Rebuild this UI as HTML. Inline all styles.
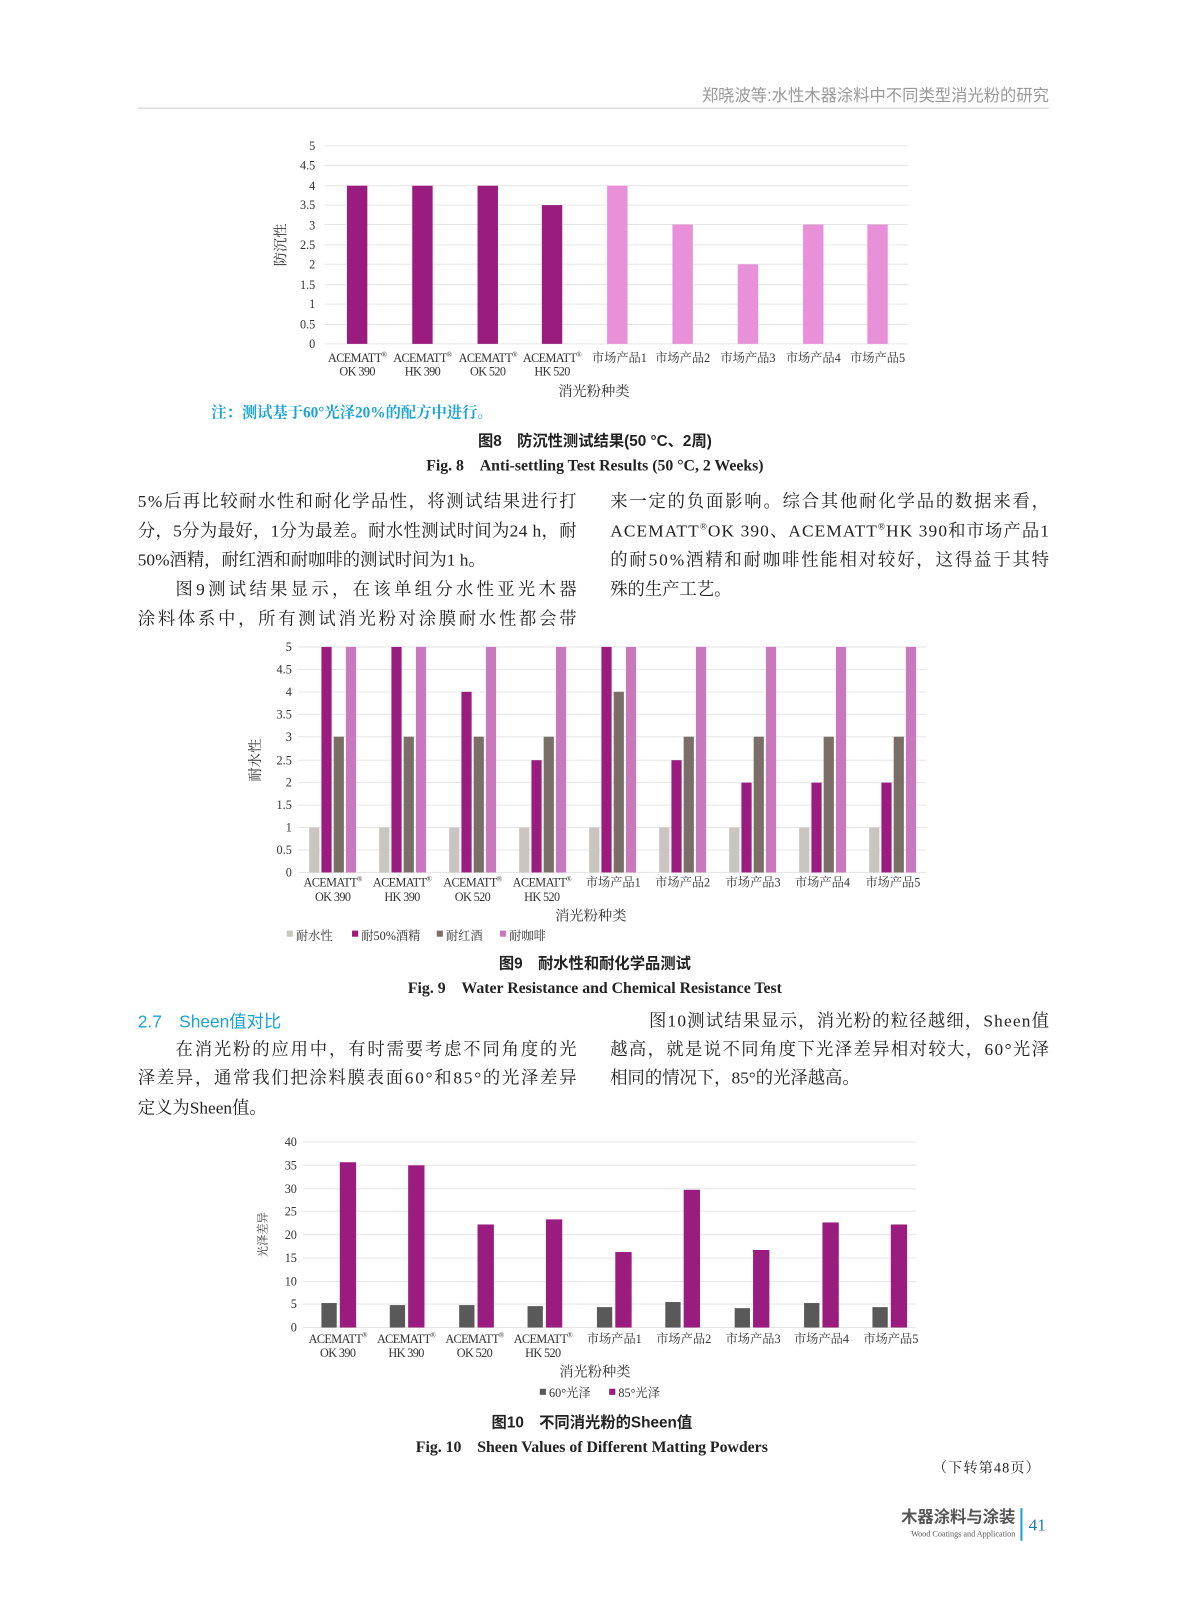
<!DOCTYPE html>
<html><head><meta charset="utf-8"><style>
html,body{margin:0;padding:0;background:#fff;}
svg{display:block;}
.s{font-family:"Liberation Serif","Noto Serif CJK SC",serif;}
.b{font-family:"Liberation Serif","Noto Serif CJK SC",serif;font-size:17px;fill:#222;}
.t{font-family:"Liberation Serif","Noto Serif CJK SC",serif;font-size:12px;fill:#333;}
.g{stroke:#e6e6e6;stroke-width:1;}
</style></head><body>
<svg width="1187" height="1600" viewBox="0 0 1187 1600" xmlns="http://www.w3.org/2000/svg">
<g transform="scale(1.0204)">
<!-- header -->
<text x="1028" y="99" text-anchor="end" font-family="Liberation Sans,Noto Sans CJK SC,sans-serif" font-size="16" fill="#999">郑晓波等:水性木器涂料中不同类型消光粉的研究</text>
<line x1="135" y1="106" x2="1028" y2="106" stroke="#ccc" stroke-width="1"/>

<!-- Chart 1 -->
<g class="t" text-anchor="end">
<text x="309" y="147">5</text><text x="309" y="166">4.5</text><text x="309" y="186">4</text><text x="309" y="205">3.5</text><text x="309" y="225">3</text><text x="309" y="244">2.5</text><text x="309" y="263">2</text><text x="309" y="283">1.5</text><text x="309" y="302">1</text><text x="309" y="322">0.5</text><text x="309" y="341">0</text>
</g>
<g class="g">
<line x1="318" x2="890" y1="143" y2="143"/><line x1="318" x2="890" y1="162" y2="162"/><line x1="318" x2="890" y1="182" y2="182"/><line x1="318" x2="890" y1="201" y2="201"/><line x1="318" x2="890" y1="220" y2="220"/><line x1="318" x2="890" y1="240" y2="240"/><line x1="318" x2="890" y1="259" y2="259"/><line x1="318" x2="890" y1="279" y2="279"/><line x1="318" x2="890" y1="298" y2="298"/><line x1="318" x2="890" y1="318" y2="318"/><line x1="318" x2="890" y1="337" y2="337"/>
</g>
<g>
<rect x="340" y="182" width="20" height="155" fill="#9b1c7f"/>
<rect x="404" y="182" width="20" height="155" fill="#9b1c7f"/>
<rect x="468" y="182" width="20" height="155" fill="#9b1c7f"/>
<rect x="531" y="201" width="20" height="136" fill="#9b1c7f"/>
<rect x="595" y="182" width="20" height="155" fill="#e891d8"/>
<rect x="659" y="220" width="20" height="117" fill="#e891d8"/>
<rect x="723" y="259" width="20" height="78" fill="#e891d8"/>
<rect x="787" y="220" width="20" height="117" fill="#e891d8"/>
<rect x="850" y="220" width="20" height="117" fill="#e891d8"/>
</g>
<g class="t" text-anchor="middle" letter-spacing="-0.6">
<text x="350" y="355">ACEMATT<tspan font-size="7" dy="-5">®</tspan></text><text x="350" y="368">OK 390</text>
<text x="414" y="355">ACEMATT<tspan font-size="7" dy="-5">®</tspan></text><text x="414" y="368">HK 390</text>
<text x="478" y="355">ACEMATT<tspan font-size="7" dy="-5">®</tspan></text><text x="478" y="368">OK 520</text>
<text x="541" y="355">ACEMATT<tspan font-size="7" dy="-5">®</tspan></text><text x="541" y="368">HK 520</text>
</g>
<g class="t" text-anchor="middle">
<text x="607" y="355">市场产品1</text><text x="669" y="355">市场产品2</text><text x="733" y="355">市场产品3</text><text x="797" y="355">市场产品4</text><text x="860" y="355">市场产品5</text>
<text x="582" y="388" font-size="14">消光粉种类</text>
<text x="0" y="0" font-size="14" transform="translate(280,240) rotate(-90)">防沉性</text>
</g>
<text x="207" y="409" font-family="Liberation Serif,Noto Serif CJK SC,serif" font-size="15" font-weight="bold" fill="#1aa3d9">注：测试基于60°光泽20%的配方中进行。</text>
<text x="583" y="437" text-anchor="middle" font-family="Liberation Sans,Noto Sans CJK SC,sans-serif" font-size="15" font-weight="bold" fill="#222">图8　防沉性测试结果(50 °C、2周)</text>
<text x="583" y="461" text-anchor="middle" class="s" font-size="15.5" font-weight="bold" fill="#222">Fig. 8　Anti-settling Test Results (50 °C, 2 Weeks)</text>

<!-- body text 1 -->
<g class="b">
<text x="135" y="497" textLength="430" lengthAdjust="spacing">5%后再比较耐水性和耐化学品性，将测试结果进行打</text>
<text x="135" y="526" textLength="430" lengthAdjust="spacing">分，5分为最好，1分为最差。耐水性测试时间为24 h，耐</text>
<text x="135" y="554">50%酒精，耐红酒和耐咖啡的测试时间为1 h。</text>
<text x="172" y="583" textLength="393" lengthAdjust="spacing">图9测试结果显示，在该单组分水性亚光木器</text>
<text x="135" y="612" textLength="430" lengthAdjust="spacing">涂料体系中，所有测试消光粉对涂膜耐水性都会带</text>
<text x="598" y="497" textLength="430" lengthAdjust="spacing">来一定的负面影响。综合其他耐化学品的数据来看，</text>
<text x="598" y="526" textLength="430" lengthAdjust="spacing">ACEMATT<tspan font-size="9" dy="-7">®</tspan><tspan dy="7">OK 390、ACEMATT</tspan><tspan font-size="9" dy="-7">®</tspan><tspan dy="7">HK 390和市场产品1</tspan></text>
<text x="598" y="554" textLength="430" lengthAdjust="spacing">的耐50%酒精和耐咖啡性能相对较好，这得益于其特</text>
<text x="598" y="583">殊的生产工艺。</text>
</g>

<!-- Chart 2 -->
<g class="t" text-anchor="end">
<text x="286" y="638">5</text><text x="286" y="660">4.5</text><text x="286" y="682">4</text><text x="286" y="704">3.5</text><text x="286" y="726">3</text><text x="286" y="749">2.5</text><text x="286" y="771">2</text><text x="286" y="793">1.5</text><text x="286" y="815">1</text><text x="286" y="837">0.5</text><text x="286" y="859">0</text>
</g>
<g class="g">
<line x1="292" x2="908" y1="634" y2="634"/><line x1="292" x2="908" y1="656" y2="656"/><line x1="292" x2="908" y1="678" y2="678"/><line x1="292" x2="908" y1="700" y2="700"/><line x1="292" x2="908" y1="722" y2="722"/><line x1="292" x2="908" y1="745" y2="745"/><line x1="292" x2="908" y1="767" y2="767"/><line x1="292" x2="908" y1="789" y2="789"/><line x1="292" x2="908" y1="811" y2="811"/><line x1="292" x2="908" y1="833" y2="833"/><line x1="292" x2="908" y1="855" y2="855"/>
</g>
<g>
<g transform="translate(326,0)"><rect x="-23" y="811" width="10" height="44" fill="#c9c5c1"/><rect x="-11" y="634" width="10" height="221" fill="#9b1c7f"/><rect x="1" y="722" width="10" height="133" fill="#7a6e66"/><rect x="13" y="634" width="10" height="221" fill="#c878bc"/></g>
<g transform="translate(394.6,0)"><rect x="-23" y="811" width="10" height="44" fill="#c9c5c1"/><rect x="-11" y="634" width="10" height="221" fill="#9b1c7f"/><rect x="1" y="722" width="10" height="133" fill="#7a6e66"/><rect x="13" y="634" width="10" height="221" fill="#c878bc"/></g>
<g transform="translate(463.2,0)"><rect x="-23" y="811" width="10" height="44" fill="#c9c5c1"/><rect x="-11" y="678" width="10" height="177" fill="#9b1c7f"/><rect x="1" y="722" width="10" height="133" fill="#7a6e66"/><rect x="13" y="634" width="10" height="221" fill="#c878bc"/></g>
<g transform="translate(531.8,0)"><rect x="-23" y="811" width="10" height="44" fill="#c9c5c1"/><rect x="-11" y="745" width="10" height="110" fill="#9b1c7f"/><rect x="1" y="722" width="10" height="133" fill="#7a6e66"/><rect x="13" y="634" width="10" height="221" fill="#c878bc"/></g>
<g transform="translate(600.4,0)"><rect x="-23" y="811" width="10" height="44" fill="#c9c5c1"/><rect x="-11" y="634" width="10" height="221" fill="#9b1c7f"/><rect x="1" y="678" width="10" height="177" fill="#7a6e66"/><rect x="13" y="634" width="10" height="221" fill="#c878bc"/></g>
<g transform="translate(669,0)"><rect x="-23" y="811" width="10" height="44" fill="#c9c5c1"/><rect x="-11" y="745" width="10" height="110" fill="#9b1c7f"/><rect x="1" y="722" width="10" height="133" fill="#7a6e66"/><rect x="13" y="634" width="10" height="221" fill="#c878bc"/></g>
<g transform="translate(737.6,0)"><rect x="-23" y="811" width="10" height="44" fill="#c9c5c1"/><rect x="-11" y="767" width="10" height="88" fill="#9b1c7f"/><rect x="1" y="722" width="10" height="133" fill="#7a6e66"/><rect x="13" y="634" width="10" height="221" fill="#c878bc"/></g>
<g transform="translate(806.2,0)"><rect x="-23" y="811" width="10" height="44" fill="#c9c5c1"/><rect x="-11" y="767" width="10" height="88" fill="#9b1c7f"/><rect x="1" y="722" width="10" height="133" fill="#7a6e66"/><rect x="13" y="634" width="10" height="221" fill="#c878bc"/></g>
<g transform="translate(874.8,0)"><rect x="-23" y="811" width="10" height="44" fill="#c9c5c1"/><rect x="-11" y="767" width="10" height="88" fill="#9b1c7f"/><rect x="1" y="722" width="10" height="133" fill="#7a6e66"/><rect x="13" y="634" width="10" height="221" fill="#c878bc"/></g>
</g>
<g class="t" text-anchor="middle" letter-spacing="-0.6">
<text x="326" y="869">ACEMATT<tspan font-size="7" dy="-5">®</tspan></text><text x="326" y="883">OK 390</text>
<text x="394" y="869">ACEMATT<tspan font-size="7" dy="-5">®</tspan></text><text x="394" y="883">HK 390</text>
<text x="463" y="869">ACEMATT<tspan font-size="7" dy="-5">®</tspan></text><text x="463" y="883">OK 520</text>
<text x="531" y="869">ACEMATT<tspan font-size="7" dy="-5">®</tspan></text><text x="531" y="883">HK 520</text>
</g>
<g class="t" text-anchor="middle">
<text x="601" y="869">市场产品1</text><text x="669" y="869">市场产品2</text><text x="738" y="869">市场产品3</text><text x="806" y="869">市场产品4</text><text x="875" y="869">市场产品5</text>
<text x="579" y="902" font-size="14">消光粉种类</text>
<text x="0" y="0" font-size="14" transform="translate(255,745) rotate(-90)">耐水性</text>
</g>
<g class="t">
<rect x="281" y="912" width="6" height="6" fill="#c9c5c1"/><text x="290" y="921">耐水性</text>
<rect x="345" y="912" width="6" height="6" fill="#9b1c7f"/><text x="354" y="921">耐50%酒精</text>
<rect x="428" y="912" width="6" height="6" fill="#7a6e66"/><text x="437" y="921">耐红酒</text>
<rect x="490" y="912" width="6" height="6" fill="#c878bc"/><text x="499" y="921">耐咖啡</text>
</g>
<text x="583" y="949" text-anchor="middle" font-family="Liberation Sans,Noto Sans CJK SC,sans-serif" font-size="15" font-weight="bold" fill="#222">图9　耐水性和耐化学品测试</text>
<text x="583" y="973" text-anchor="middle" class="s" font-size="15.5" font-weight="bold" fill="#222">Fig. 9　Water Resistance and Chemical Resistance Test</text>

<!-- section 2.7 -->
<text x="135" y="1007" font-family="Liberation Sans,Noto Sans CJK SC,sans-serif" font-size="17" fill="#1aa3d9">2.7　Sheen值对比</text>
<g class="b">
<text x="172" y="1034" textLength="393" lengthAdjust="spacing">在消光粉的应用中，有时需要考虑不同角度的光</text>
<text x="135" y="1062" textLength="430" lengthAdjust="spacing">泽差异，通常我们把涂料膜表面60°和85°的光泽差异</text>
<text x="135" y="1091">定义为Sheen值。</text>
<text x="636" y="1006" textLength="392" lengthAdjust="spacing">图10测试结果显示，消光粉的粒径越细，Sheen值</text>
<text x="598" y="1034" textLength="430" lengthAdjust="spacing">越高，就是说不同角度下光泽差异相对较大，60°光泽</text>
<text x="598" y="1062">相同的情况下，85°的光泽越高。</text>
</g>

<!-- Chart 3 -->
<g class="t" text-anchor="end">
<text x="291" y="1123">40</text><text x="291" y="1146">35</text><text x="291" y="1169">30</text><text x="291" y="1191">25</text><text x="291" y="1214">20</text><text x="291" y="1237">15</text><text x="291" y="1260">10</text><text x="291" y="1282">5</text><text x="291" y="1305">0</text>
</g>
<g class="g">
<line x1="297" x2="898" y1="1119" y2="1119"/><line x1="297" x2="898" y1="1142" y2="1142"/><line x1="297" x2="898" y1="1165" y2="1165"/><line x1="297" x2="898" y1="1187" y2="1187"/><line x1="297" x2="898" y1="1210" y2="1210"/><line x1="297" x2="898" y1="1233" y2="1233"/><line x1="297" x2="898" y1="1256" y2="1256"/><line x1="297" x2="898" y1="1278" y2="1278"/><line x1="297" x2="898" y1="1301" y2="1301"/>
</g>
<g>
<rect x="315" y="1277" width="15" height="24" fill="#595959"/><rect x="333" y="1139" width="16" height="162" fill="#9b1c7f"/>
<rect x="382" y="1279" width="15" height="22" fill="#595959"/><rect x="400" y="1142" width="16" height="159" fill="#9b1c7f"/>
<rect x="450" y="1279" width="15" height="22" fill="#595959"/><rect x="468" y="1200" width="16" height="101" fill="#9b1c7f"/>
<rect x="517" y="1280" width="15" height="21" fill="#595959"/><rect x="535" y="1195" width="16" height="106" fill="#9b1c7f"/>
<rect x="585" y="1281" width="15" height="20" fill="#595959"/><rect x="603" y="1227" width="16" height="74" fill="#9b1c7f"/>
<rect x="652" y="1276" width="15" height="25" fill="#595959"/><rect x="670" y="1166" width="16" height="135" fill="#9b1c7f"/>
<rect x="720" y="1282" width="15" height="19" fill="#595959"/><rect x="738" y="1225" width="16" height="76" fill="#9b1c7f"/>
<rect x="788" y="1277" width="15" height="24" fill="#595959"/><rect x="806" y="1198" width="16" height="103" fill="#9b1c7f"/>
<rect x="855" y="1281" width="15" height="20" fill="#595959"/><rect x="873" y="1200" width="16" height="101" fill="#9b1c7f"/>
</g>
<g class="t" text-anchor="middle" letter-spacing="-0.6">
<text x="331" y="1316">ACEMATT<tspan font-size="7" dy="-5">®</tspan></text><text x="331" y="1330">OK 390</text>
<text x="398" y="1316">ACEMATT<tspan font-size="7" dy="-5">®</tspan></text><text x="398" y="1330">HK 390</text>
<text x="465" y="1316">ACEMATT<tspan font-size="7" dy="-5">®</tspan></text><text x="465" y="1330">OK 520</text>
<text x="532" y="1316">ACEMATT<tspan font-size="7" dy="-5">®</tspan></text><text x="532" y="1330">HK 520</text>
</g>
<g class="t" text-anchor="middle">
<text x="602" y="1316">市场产品1</text><text x="670" y="1316">市场产品2</text><text x="738" y="1316">市场产品3</text><text x="805" y="1316">市场产品4</text><text x="873" y="1316">市场产品5</text>
<text x="583" y="1349" font-size="14">消光粉种类</text>
<text x="0" y="0" font-size="11" transform="translate(261,1210) rotate(-90)">光泽差异</text>
</g>
<g class="t">
<rect x="529" y="1361" width="6" height="6" fill="#595959"/><text x="538" y="1369">60°光泽</text>
<rect x="597" y="1361" width="6" height="6" fill="#9b1c7f"/><text x="606" y="1369">85°光泽</text>
</g>
<text x="580" y="1399" text-anchor="middle" font-family="Liberation Sans,Noto Sans CJK SC,sans-serif" font-size="15" font-weight="bold" fill="#222">图10　不同消光粉的Sheen值</text>
<text x="580" y="1423" text-anchor="middle" class="s" font-size="15.5" font-weight="bold" fill="#222">Fig. 10　Sheen Values of Different Matting Powders</text>

<!-- footer -->
<text x="1020" y="1443" text-anchor="end" class="s" font-size="14" fill="#222" letter-spacing="1">（下转第48页）</text>
<text x="995" y="1492" text-anchor="end" font-family="Liberation Sans,Noto Sans CJK SC,sans-serif" font-size="16" font-weight="bold" fill="#555">木器涂料与涂装</text>
<text x="995" y="1506" text-anchor="end" class="s" font-size="8" fill="#555">Wood Coatings and Application</text>
<line x1="1001" y1="1478" x2="1001" y2="1510" stroke="#1aa3d9" stroke-width="2"/>
<text x="1008" y="1500" class="s" font-size="17" fill="#1a7fb0">41</text>
</g>
</svg>
</body></html>
